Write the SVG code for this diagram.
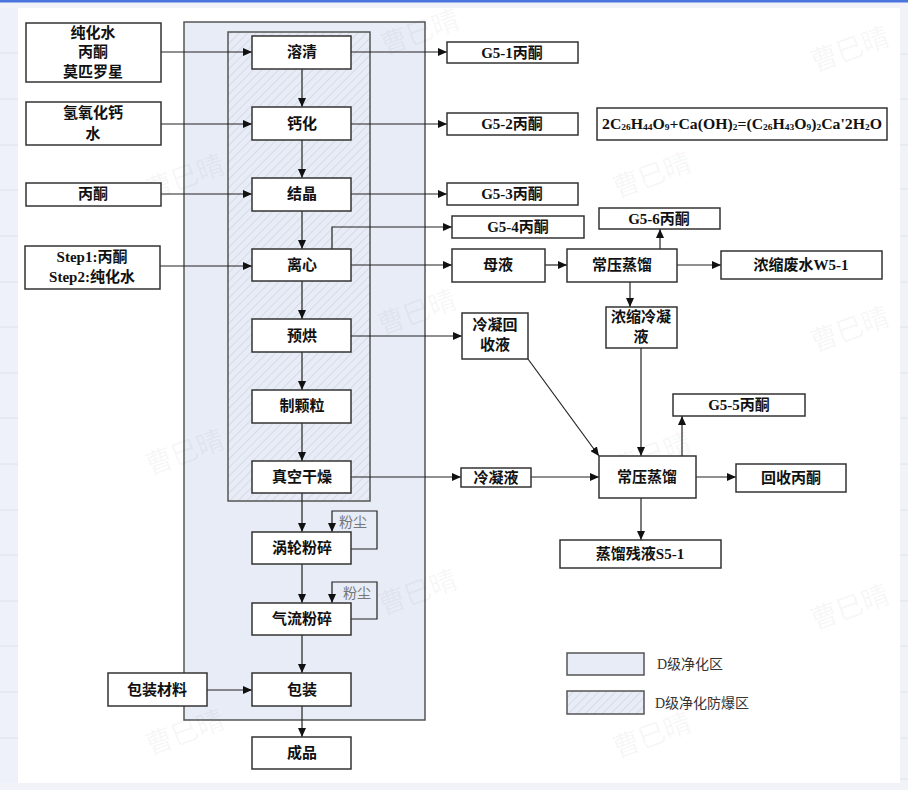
<svg xmlns="http://www.w3.org/2000/svg" width="908" height="790" viewBox="0 0 908 790">
<defs>
<marker id="arr" markerUnits="userSpaceOnUse" markerWidth="10" markerHeight="8" refX="9" refY="4" orient="auto">
<path d="M0,0 L9,4 L0,8 z" fill="#111"/>
</marker>
<pattern id="hatch" patternUnits="userSpaceOnUse" width="6" height="6" patternTransform="rotate(45)">
<rect width="6" height="6" fill="#e8ecf6"/>
<line x1="0" y1="0" x2="0" y2="6" stroke="#c6cbd7" stroke-width="1"/>
</pattern>
<style>
.box{fill:#fff;stroke:#333;stroke-width:1.5}
.t{font-family:"Liberation Serif","Noto Sans CJK SC",serif;font-weight:bold;font-size:15px;fill:#111;text-anchor:middle;dominant-baseline:central}
.c{fill:none;stroke:#222;stroke-width:1.2;marker-end:url(#arr)}
.d{font-family:"Liberation Serif","Noto Sans CJK SC",serif;font-size:14px;fill:#777}
.lg{font-family:"Liberation Serif","Noto Sans CJK SC",serif;font-size:14px;fill:#333;dominant-baseline:central}
.wm{font-family:"Noto Sans CJK SC",sans-serif;font-size:27px;fill:#000;fill-opacity:0.055}
.rl{stroke:#dde2ee;stroke-width:1}
</style>
</defs>

<!-- page background -->
<rect x="0" y="0" width="908" height="790" fill="#f1f3f9"/>
<rect x="0" y="8" width="18" height="775" fill="#eef1fa"/>
<rect x="18" y="8" width="882" height="775" fill="#fff"/>
<rect x="0" y="0" width="908" height="2.5" fill="#4a74de"/>
<g class="rl">
<line x1="0" y1="53" x2="18" y2="53"/><line x1="0" y1="99" x2="18" y2="99"/><line x1="0" y1="145" x2="18" y2="145"/><line x1="0" y1="190" x2="18" y2="190"/><line x1="0" y1="236" x2="18" y2="236"/><line x1="0" y1="282" x2="18" y2="282"/><line x1="0" y1="327" x2="18" y2="327"/><line x1="0" y1="373" x2="18" y2="373"/><line x1="0" y1="418" x2="18" y2="418"/><line x1="0" y1="464" x2="18" y2="464"/><line x1="0" y1="510" x2="18" y2="510"/><line x1="0" y1="555" x2="18" y2="555"/><line x1="0" y1="601" x2="18" y2="601"/><line x1="0" y1="646" x2="18" y2="646"/><line x1="0" y1="692" x2="18" y2="692"/><line x1="0" y1="738" x2="18" y2="738"/>
<line x1="900" y1="54" x2="908" y2="54"/><line x1="900" y1="99" x2="908" y2="99"/><line x1="900" y1="145" x2="908" y2="145"/><line x1="900" y1="189" x2="908" y2="189"/><line x1="900" y1="236" x2="908" y2="236"/><line x1="900" y1="282" x2="908" y2="282"/><line x1="900" y1="327" x2="908" y2="327"/><line x1="900" y1="373" x2="908" y2="373"/><line x1="900" y1="418" x2="908" y2="418"/><line x1="900" y1="464" x2="908" y2="464"/><line x1="900" y1="510" x2="908" y2="510"/><line x1="900" y1="555" x2="908" y2="555"/><line x1="900" y1="601" x2="908" y2="601"/><line x1="900" y1="646" x2="908" y2="646"/><line x1="900" y1="692" x2="908" y2="692"/><line x1="900" y1="738" x2="908" y2="738"/><line x1="900" y1="779" x2="908" y2="779"/>
</g>

<!-- zones -->
<g id="zone-d">
<rect x="184" y="22" width="241" height="698" fill="#e8ecf6" stroke="#555" stroke-width="1.5"/>
</g>
<g id="zone-d-explosion">
<rect x="228" y="32" width="142" height="469" fill="url(#hatch)" stroke="#555" stroke-width="1.5"/>
</g>

<!-- watermarks -->
<g id="watermarks" class="wm">
<text transform="translate(150,200) rotate(-20)">曹巳晴</text>
<text transform="translate(150,475) rotate(-20)">曹巳晴</text>
<text transform="translate(150,755) rotate(-20)">曹巳晴</text>
<text transform="translate(385,55) rotate(-20)">曹巳晴</text>
<text transform="translate(382,335) rotate(-20)">曹巳晴</text>
<text transform="translate(383,615) rotate(-20)">曹巳晴</text>
<text transform="translate(617,198) rotate(-20)">曹巳晴</text>
<text transform="translate(617,478) rotate(-20)">曹巳晴</text>
<text transform="translate(617,758) rotate(-20)">曹巳晴</text>
<text transform="translate(815,72) rotate(-20)">曹巳晴</text>
<text transform="translate(815,352) rotate(-20)">曹巳晴</text>
<text transform="translate(815,630) rotate(-20)">曹巳晴</text>
</g>

<!-- connectors -->
<g id="connectors">
<path class="c" d="M161,52 H252"/>
<path class="c" d="M161,124 H252"/>
<path class="c" d="M161,194 H252"/>
<path class="c" d="M160,266 H252"/>
<path class="c" d="M302,69 V107"/>
<path class="c" d="M302,140 V178"/>
<path class="c" d="M302,211 V249"/>
<path class="c" d="M302,281 V319"/>
<path class="c" d="M302,352 V390"/>
<path class="c" d="M302,423 V461"/>
<path class="c" d="M302,493 V532"/>
<path class="c" d="M302,564 V603"/>
<path class="c" d="M302,635 V673"/>
<path class="c" d="M302,706 V737"/>
<path class="c" d="M207,690 H252"/>
<path class="c" d="M351,52 H447"/>
<path class="c" d="M351,124 H447"/>
<path class="c" d="M351,194 H447"/>
<path class="c" d="M332,249 V227 H452"/>
<path class="c" d="M351,265 H452"/>
<path class="c" d="M545,265 H567"/>
<path class="c" d="M660,249 V229"/>
<path class="c" d="M677,265 H721"/>
<path class="c" d="M630,282 V307"/>
<path class="c" d="M351,336 H462"/>
<path class="c" d="M528,359 L599,456"/>
<path class="c" d="M641,348 V456"/>
<path class="c" d="M682,456 V416"/>
<path class="c" d="M696,477 H736"/>
<path class="c" d="M641,498 V540"/>
<path class="c" d="M351,477 H461"/>
<path class="c" d="M531,477 H599"/>
<path class="c" d="M351,549 H377 V511 H332 V532"/>
<path class="c" d="M351,619 H377 V582 H332 V603"/>
</g>
<text class="d" x="339" y="527">粉尘</text>
<text class="d" x="343" y="598">粉尘</text>

<!-- input nodes -->
<g id="in-water-acetone-mupirocin"><rect class="box" x="26" y="23" width="135" height="59"/>
<text class="t" x="93" y="33">纯化水</text><text class="t" x="93" y="52">丙酮</text><text class="t" x="93" y="72">莫匹罗星</text></g>
<g id="in-caoh"><rect class="box" x="26" y="102" width="135" height="43"/>
<text class="t" x="93" y="113">氢氧化钙</text><text class="t" x="93" y="134">水</text></g>
<g id="in-acetone"><rect class="box" x="26" y="183" width="135" height="23"/>
<text class="t" x="93" y="194">丙酮</text></g>
<g id="in-steps"><rect class="box" x="25" y="246" width="135" height="43"/>
<text class="t" x="92" y="257">Step1:丙酮</text><text class="t" x="92" y="277">Step2:纯化水</text></g>
<g id="in-pack-material"><rect class="box" x="108" y="673" width="99" height="33"/>
<text class="t" x="157" y="690">包装材料</text></g>

<!-- process nodes -->
<g id="p-dissolve"><rect class="box" x="252" y="36" width="99" height="33"/><text class="t" x="302" y="52">溶清</text></g>
<g id="p-calcify"><rect class="box" x="252" y="107" width="99" height="33"/><text class="t" x="302" y="124">钙化</text></g>
<g id="p-crystal"><rect class="box" x="252" y="178" width="99" height="33"/><text class="t" x="302" y="194">结晶</text></g>
<g id="p-centrifuge"><rect class="box" x="252" y="249" width="99" height="32"/><text class="t" x="302" y="265">离心</text></g>
<g id="p-predry"><rect class="box" x="252" y="319" width="99" height="33"/><text class="t" x="302" y="336">预烘</text></g>
<g id="p-granulate"><rect class="box" x="252" y="390" width="99" height="33"/><text class="t" x="302" y="406">制颗粒</text></g>
<g id="p-vacdry"><rect class="box" x="252" y="461" width="99" height="32"/><text class="t" x="302" y="477">真空干燥</text></g>
<g id="p-turbomill"><rect class="box" x="252" y="532" width="99" height="32"/><text class="t" x="302" y="548">涡轮粉碎</text></g>
<g id="p-jetmill"><rect class="box" x="252" y="603" width="99" height="32"/><text class="t" x="302" y="619">气流粉碎</text></g>
<g id="p-pack"><rect class="box" x="252" y="673" width="99" height="33"/><text class="t" x="302" y="690">包装</text></g>
<g id="p-product"><rect class="box" x="252" y="737" width="99" height="32"/><text class="t" x="302" y="753">成品</text></g>

<!-- outputs -->
<g id="g5-1"><rect class="box" x="447" y="42" width="131" height="21"/><text class="t" x="512" y="53">G5-1丙酮</text></g>
<g id="g5-2"><rect class="box" x="447" y="113" width="131" height="22"/><text class="t" x="512" y="124">G5-2丙酮</text></g>
<g id="formula"><rect class="box" x="597" y="108" width="290" height="32"/>
<text class="t" x="742" y="124" font-size="15" textLength="280" lengthAdjust="spacingAndGlyphs">2C<tspan font-size="9" dy="3">26</tspan><tspan dy="-3">H</tspan><tspan font-size="9" dy="3">44</tspan><tspan dy="-3">O</tspan><tspan font-size="9" dy="3">9</tspan><tspan dy="-3">+Ca(OH)</tspan><tspan font-size="9" dy="3">2</tspan><tspan dy="-3">=(C</tspan><tspan font-size="9" dy="3">26</tspan><tspan dy="-3">H</tspan><tspan font-size="9" dy="3">43</tspan><tspan dy="-3">O</tspan><tspan font-size="9" dy="3">9</tspan><tspan dy="-3">)</tspan><tspan font-size="9" dy="3">2</tspan><tspan dy="-3">Ca'2H</tspan><tspan font-size="9" dy="3">2</tspan><tspan dy="-3">O</tspan></text></g>
<g id="g5-3"><rect class="box" x="447" y="183" width="131" height="22"/><text class="t" x="512" y="194">G5-3丙酮</text></g>
<g id="g5-4"><rect class="box" x="452" y="216" width="132" height="22"/><text class="t" x="518" y="227">G5-4丙酮</text></g>
<g id="g5-6"><rect class="box" x="599" y="208" width="121" height="21"/><text class="t" x="659" y="219">G5-6丙酮</text></g>
<g id="mother-liquor"><rect class="box" x="452" y="249" width="93" height="33"/><text class="t" x="498" y="265">母液</text></g>
<g id="distill-1"><rect class="box" x="567" y="249" width="110" height="33"/><text class="t" x="622" y="265">常压蒸馏</text></g>
<g id="w5-1"><rect class="box" x="721" y="251" width="161" height="28"/><text class="t" x="801" y="265">浓缩废水W5-1</text></g>
<g id="cond-recovery"><rect class="box" x="462" y="313" width="66" height="46"/><text class="t" x="495" y="325">冷凝回</text><text class="t" x="495" y="345">收液</text></g>
<g id="conc-cond"><rect class="box" x="606" y="307" width="71" height="41"/><text class="t" x="641" y="317">浓缩冷凝</text><text class="t" x="641" y="337">液</text></g>
<g id="g5-5"><rect class="box" x="673" y="394" width="132" height="22"/><text class="t" x="739" y="405">G5-5丙酮</text></g>
<g id="distill-2"><rect class="box" x="599" y="456" width="97" height="42"/><text class="t" x="647" y="477">常压蒸馏</text></g>
<g id="condensate"><rect class="box" x="461" y="468" width="70" height="19"/><text class="t" x="496" y="478">冷凝液</text></g>
<g id="recovered-acetone"><rect class="box" x="736" y="464" width="110" height="28"/><text class="t" x="791" y="478">回收丙酮</text></g>
<g id="s5-1"><rect class="box" x="560" y="540" width="161" height="28"/><text class="t" x="640" y="554">蒸馏残液S5-1</text></g>

<!-- legend -->
<g id="legend">
<rect x="567" y="653" width="77" height="22" fill="#e8ecf6" stroke="#555" stroke-width="1.5"/>
<text class="lg" x="657" y="664">D级净化区</text>
<rect x="567" y="691" width="77" height="23" fill="url(#hatch)" stroke="#555" stroke-width="1.5"/>
<text class="lg" x="655" y="703">D级净化防爆区</text>
</g>
</svg>
